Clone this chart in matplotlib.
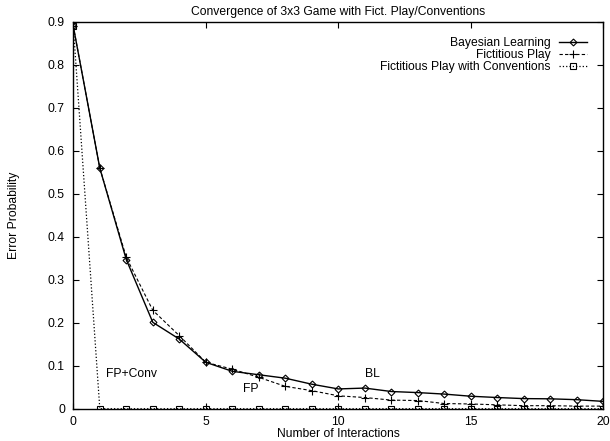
import matplotlib
matplotlib.use("Agg")
import matplotlib.pyplot as plt
from matplotlib.ticker import MultipleLocator, FormatStrFormatter

interactions = list(range(21))
bayesian = [0.89, 0.56, 0.347, 0.201, 0.162, 0.108, 0.087, 0.079, 0.071, 0.057, 0.046,
            0.048, 0.040, 0.0375, 0.034, 0.029, 0.026, 0.0235, 0.023, 0.021, 0.017]
fictitious = [0.89, 0.56, 0.352, 0.229, 0.170, 0.108, 0.092, 0.073, 0.052, 0.042, 0.030,
              0.026, 0.020, 0.019, 0.012, 0.011, 0.009, 0.007, 0.007, 0.006, 0.006]
fp_conv = [0.89] + [0.0] * 20

annotations = [("FP+Conv", 1.22, 0.081), ("FP", 6.41, 0.047), ("BL", 11.0, 0.081)]

plt.rcParams['font.family'] = ['Liberation Sans', 'DejaVu Sans']
fs = 8.7

fig = plt.figure(figsize=(6.10, 4.41), dpi=100)
ax = fig.add_axes([73.3/610, 1-408.7/441, (603.3-73.3)/610, (408.7-22)/441])

ax.plot(interactions, bayesian, '-', color='black', lw=1.0, marker='D', ms=3.5,
        mfc='none', mec='black', mew=0.8, label='Bayesian Learning')
ax.plot(interactions, fictitious, '--', color='black', lw=0.8, dashes=(3, 2), marker='+', ms=6,
        mew=0.8, label='Fictitious Play')
ax.plot(interactions, fp_conv, ':', color='black', lw=0.9, marker='s', ms=4.5,
        mfc='none', mec='black', mew=0.8, label='Fictitious Play with Conventions')

for txt, x, y in annotations:
    ax.text(x, y, txt, fontsize=fs, ha='left', va='center')

ax.set_xlim(0, 20)
ax.set_ylim(0, 0.9)
ax.xaxis.set_major_locator(MultipleLocator(5))
ax.yaxis.set_major_locator(MultipleLocator(0.1))
ax.yaxis.set_major_formatter(FormatStrFormatter('%g'))
ax.tick_params(direction='in', top=True, right=True, labelsize=fs, length=4, width=0.8)
ax.tick_params(axis='x', pad=5)
ax.tick_params(axis='y', pad=6)
for s in ax.spines.values():
    s.set_linewidth(1.0)

ax.set_title('Convergence of 3x3 Game with Fict. Play/Conventions', fontsize=fs, pad=5)
ax.set_xlabel('Number of Interactions', fontsize=fs, labelpad=0)
ax.set_ylabel('Error Probability', fontsize=fs, labelpad=20)

leg = ax.legend(loc='upper right', fontsize=fs, frameon=False, markerfirst=False,
                handlelength=2.3, handletextpad=0.7, labelspacing=0.0,
                borderaxespad=0.5, bbox_to_anchor=(0.99, 0.99))
for t in leg.get_texts():
    t.set_ha('right')
leg._legend_box.align = 'right'

fig.savefig('out.png', dpi=100)
